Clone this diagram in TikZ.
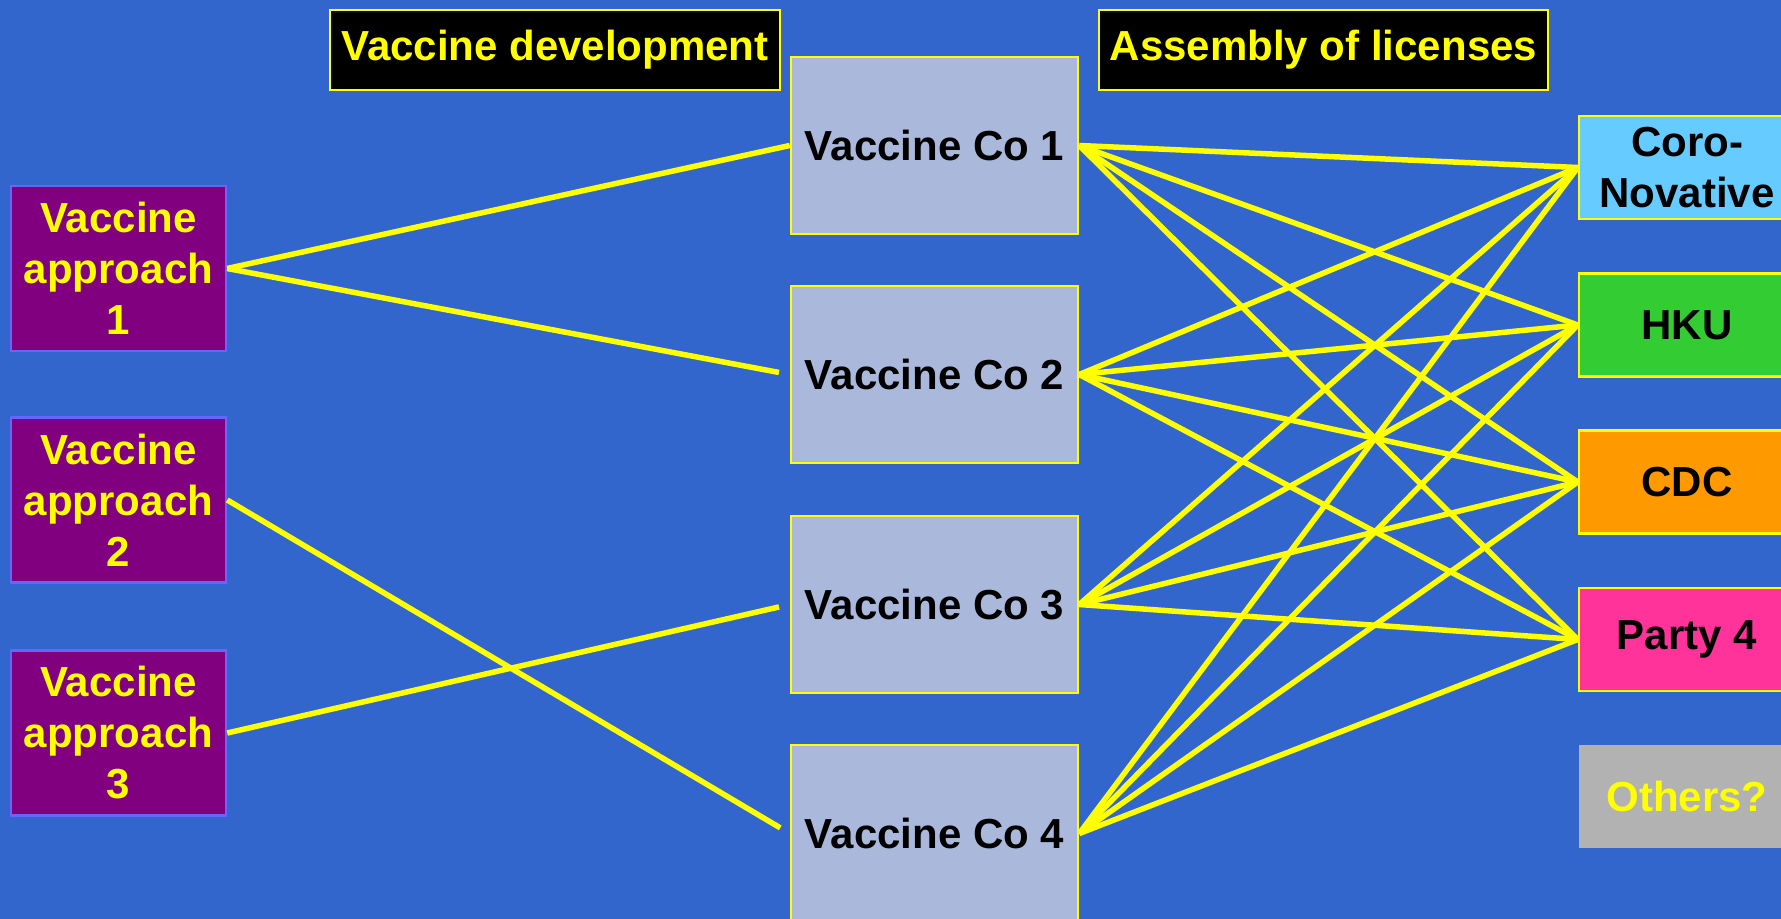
\documentclass[tikz,border=0pt]{standalone}
\usepackage{fontspec}
\setmainfont{Liberation Sans}
\definecolor{bg}{RGB}{51,102,204}
\definecolor{appurple}{RGB}{128,0,128}
\definecolor{apbord}{RGB}{102,102,255}
\definecolor{cofill}{RGB}{170,184,220}
\definecolor{corofill}{RGB}{102,204,255}
\definecolor{hkufill}{RGB}{51,204,51}
\definecolor{cdcfill}{RGB}{255,153,0}
\definecolor{partyfill}{RGB}{255,51,153}
\definecolor{othfill}{RGB}{178,178,178}
\definecolor{yel}{RGB}{255,255,0}
\begin{document}
\begin{tikzpicture}[x=0.5pt,y=-0.5pt,
  base/.style={font=\fontsize{21}{25.5}\selectfont\bfseries, align=center, inner sep=0pt},
  hdr/.style={base, draw=yel, fill=black, text=yel, line width=1.25pt, minimum height=40pt},
  appr/.style={base, draw=apbord, fill=appurple, text=yel, line width=1.25pt, minimum width=107.5pt, minimum height=82.5pt},
  cobox/.style={base, draw=yel, fill=cofill, text=black, line width=1.25pt, minimum width=143.5pt, minimum height=88.5pt},
  party/.style={base, draw=yel, text=black, line width=1.25pt, minimum width=108pt, minimum height=51.5pt},
  link/.style={draw=yel, line width=2.75pt},
  short/.style={shorten >=5.5pt}]
\clip (0,0) rectangle (1781,919);
\fill[bg] (0,0) rectangle (1781,919);
\useasboundingbox (0,0) rectangle (1781,919);

\node[hdr, minimum width=225pt] (h1) at (555,50) {Vaccine development};
\node[hdr, minimum width=224.5pt] (h2) at (1323.5,50) {Assembly of licenses};

\node[appr] (a1) at (118.5,268.5) {Vaccine\\approach\\1};
\node[appr] (a2) at (118.5,500) {Vaccine\\approach\\2};
\node[appr] (a3) at (118.5,733) {Vaccine\\approach\\3};

\node[cobox] (c1) at (934.5,145.5) {Vaccine Co 1};
\node[cobox] (c2) at (934.5,374.5) {Vaccine Co 2};
\node[cobox] (c3) at (934.5,604.5) {Vaccine Co 3};
\node[cobox] (c4) at (934.5,833.5) {Vaccine Co 4};

\node[party, fill=corofill] (p1) at (1687,167.5) {Coro-\\Novative};
\node[party, fill=hkufill] (p2) at (1687,325) {HKU};
\node[party, fill=cdcfill] (p3) at (1687,482) {CDC};
\node[party, fill=partyfill] (p4) at (1687,639.5) {Party 4};
\node[base, fill=othfill, text=yel, minimum width=108pt, minimum height=51.5pt] (p5) at (1687,796.5) {Others?};

\draw[link] (a1.east) -- (c1.west);
\draw[link, short] (a1.east) -- (c2.west);
\draw[link, short] (a2.east) -- (c4.west);
\draw[link, short] (a3.east) -- (c3.west);

\foreach \c in {c1,c2,c3,c4}{
  \foreach \p in {p1,p2,p3,p4}{
    \draw[link] (\c.east) -- (\p.west);
  }
}
\end{tikzpicture}
\end{document}
